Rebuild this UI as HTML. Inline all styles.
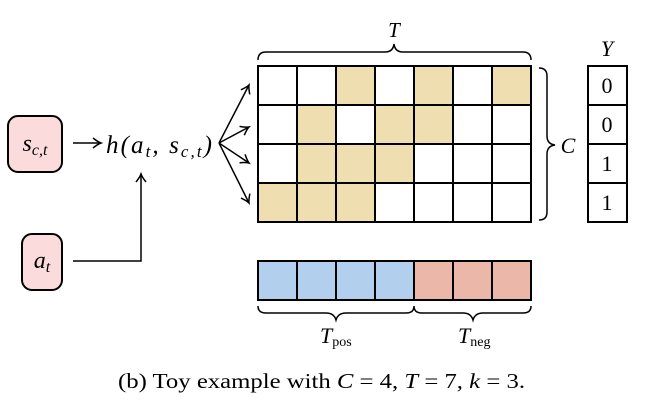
<!DOCTYPE html>
<html><head><meta charset="utf-8"><style>
body{margin:0;background:#fff;width:648px;height:409px;overflow:hidden}
svg text{font-family:"Liberation Serif",serif}
</style></head><body>
<svg width="648" height="409" viewBox="0 0 648 409" xmlns="http://www.w3.org/2000/svg">
<defs><marker id="ar" markerWidth="12" markerHeight="12" refX="9" refY="6" orient="auto" markerUnits="userSpaceOnUse"><path d="M1,1 Q6,5 9,6 Q6,7 1,11" fill="none" stroke="#000" stroke-width="1.5"/></marker></defs>
<rect x="8" y="116" width="54" height="56" rx="10" fill="#fbdbdb" stroke="#000" stroke-width="2"/>
<text x="35" y="151" font-size="24" font-style="italic" text-anchor="middle">s<tspan font-size="16" dy="4">c,t</tspan></text>
<rect x="22" y="234" width="40" height="56" rx="10" fill="#fbdbdb" stroke="#000" stroke-width="2"/>
<text x="42" y="268" font-size="24" font-style="italic" text-anchor="middle">a<tspan font-size="16" dy="4">t</tspan></text>
<line x1="73" y1="143" x2="101" y2="143" stroke="#000" stroke-width="1.5" marker-end="url(#ar)"/>
<text x="106" y="153" font-size="25" font-style="italic" textLength="106" lengthAdjust="spacing">h(a<tspan font-size="17" dy="4">t</tspan><tspan dy="-4">, s</tspan><tspan font-size="17" dy="4">c,t</tspan><tspan dy="-4">)</tspan></text>
<polyline points="73,261 141,261 141,174" fill="none" stroke="#000" stroke-width="1.5" marker-end="url(#ar)"/>
<g stroke="#000" stroke-width="1.5" marker-end="url(#ar)">
<line x1="219" y1="143" x2="249" y2="85"/>
<line x1="219" y1="143" x2="249" y2="127"/>
<line x1="219" y1="143" x2="249" y2="163"/>
<line x1="219" y1="143" x2="249" y2="203"/>
</g>
<g stroke="#000" stroke-width="2">
<g fill="#fff">
<rect x="258" y="66" width="39" height="39"/><rect x="297" y="66" width="39" height="39"/><rect x="336" y="66" width="39" height="39" fill="#efdfb0"/><rect x="375" y="66" width="39" height="39"/><rect x="414" y="66" width="39" height="39" fill="#efdfb0"/><rect x="453" y="66" width="39" height="39"/><rect x="492" y="66" width="39" height="39" fill="#efdfb0"/>
<rect x="258" y="105" width="39" height="39"/><rect x="297" y="105" width="39" height="39" fill="#efdfb0"/><rect x="336" y="105" width="39" height="39"/><rect x="375" y="105" width="39" height="39" fill="#efdfb0"/><rect x="414" y="105" width="39" height="39" fill="#efdfb0"/><rect x="453" y="105" width="39" height="39"/><rect x="492" y="105" width="39" height="39"/>
<rect x="258" y="144" width="39" height="39"/><rect x="297" y="144" width="39" height="39" fill="#efdfb0"/><rect x="336" y="144" width="39" height="39" fill="#efdfb0"/><rect x="375" y="144" width="39" height="39" fill="#efdfb0"/><rect x="414" y="144" width="39" height="39"/><rect x="453" y="144" width="39" height="39"/><rect x="492" y="144" width="39" height="39"/>
<rect x="258" y="183" width="39" height="39" fill="#efdfb0"/><rect x="297" y="183" width="39" height="39" fill="#efdfb0"/><rect x="336" y="183" width="39" height="39" fill="#efdfb0"/><rect x="375" y="183" width="39" height="39"/><rect x="414" y="183" width="39" height="39"/><rect x="453" y="183" width="39" height="39"/><rect x="492" y="183" width="39" height="39"/>
</g>
<g fill="#b3cfee"><rect x="258" y="261" width="39" height="39"/><rect x="297" y="261" width="39" height="39"/><rect x="336" y="261" width="39" height="39"/><rect x="375" y="261" width="39" height="39"/></g>
<g fill="#eab7a8"><rect x="414" y="261" width="39" height="39"/><rect x="453" y="261" width="39" height="39"/><rect x="492" y="261" width="39" height="39"/></g>
<g fill="#fff"><rect x="588" y="66" width="39" height="39"/><rect x="588" y="105" width="39" height="39"/><rect x="588" y="144" width="39" height="39"/><rect x="588" y="183" width="39" height="39"/></g>
</g>
<g fill="none" stroke="#000" stroke-width="1.5">
<path d="M258,60 Q258,52 266,52 L385,52 Q393,52 394,44 Q395,52 403,52 L523,52 Q531,52 531,60"/>
<path d="M539,68 Q547,68 547,76 L547,136 Q547,144 555,145 Q547,146 547,154 L547,212 Q547,220 539,220"/>
<path d="M258,306 Q258,313 266,313 L326,313 Q334,313 336,320 Q338,313 346,313 L406,313 Q414,313 414,306 Q414,313 422,313 L463,313 Q471,313 473,320 Q475,313 483,313 L523,313 Q531,313 531,306"/>
</g>
<text x="394" y="37" font-size="21" font-style="italic" text-anchor="middle">T</text>
<text x="568" y="153" font-size="22" font-style="italic" text-anchor="middle">C</text>
<text x="607" y="56" font-size="22" font-style="italic" text-anchor="middle">Y</text>
<g font-size="22" text-anchor="middle"><text x="607" y="93">0</text><text x="607" y="132">0</text><text x="607" y="171">1</text><text x="607" y="210">1</text></g>
<text x="320" y="343" font-size="22" font-style="italic">T<tspan font-size="14" font-style="normal" dy="3">pos</tspan></text>
<text x="458" y="343" font-size="22" font-style="italic">T<tspan font-size="14" font-style="normal" dy="3">neg</tspan></text>
<text x="118" y="388" font-size="21" textLength="407" lengthAdjust="spacingAndGlyphs">(b) Toy example with <tspan font-style="italic">C</tspan> = 4, <tspan font-style="italic">T</tspan> = 7, <tspan font-style="italic">k</tspan> = 3.</text>
</svg>
</body></html>
